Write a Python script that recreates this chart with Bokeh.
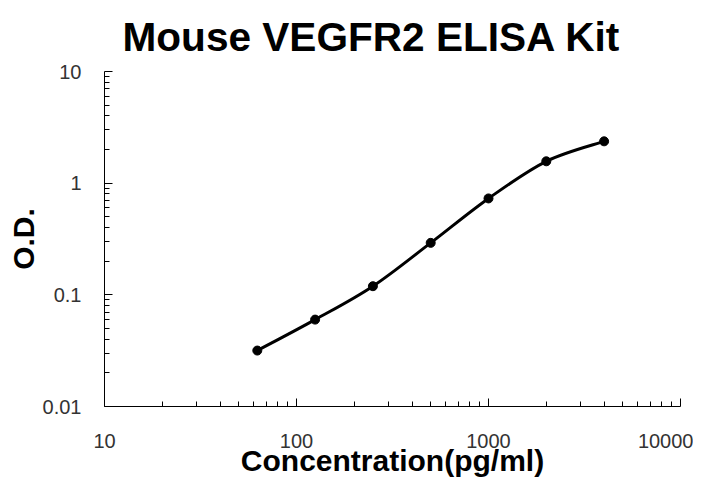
import numpy as np
from bokeh.plotting import figure
from bokeh.models import Range1d, FixedTicker, CustomJSTickFormatter, ColumnDataSource, Title
from bokeh.embed import file_html
from bokeh.resources import INLINE

# Data
concentration = [62.5, 125, 250, 500, 1000, 2000, 4000]
od = [0.0317, 0.060, 0.1195, 0.292, 0.73, 1.57, 2.37]

title_text = "Mouse VEGFR2 ELISA Kit"
x_label = "Concentration(pg/ml)"
y_label = "O.D."
x_major = [10, 100, 1000, 10000]
y_major = [0.01, 0.1, 1, 10]
mantissas = [2, 3, 4, 5, 6, 7, 8, 9]

x_minor = [d * m for d in [10, 100, 1000] for m in mantissas]
y_minor = [d * m for d in [0.01, 0.1, 1] for m in mantissas]

p = figure(width=693, height=483, x_axis_type="log", y_axis_type="log",
           x_range=Range1d(10, 10000), y_range=Range1d(0.01, 10),
           output_backend="svg", toolbar_location=None,
           min_border_left=104, min_border_right=13, min_border_top=71, min_border_bottom=77)
p.title = Title(text=title_text, align="left", offset=18, standoff=23, vertical_align="bottom",
                text_font="Liberation Sans", text_font_size="40.6px", text_font_style="bold",
                text_color="black")
p.outline_line_color = None
p.grid.visible = False
p.background_fill_color = "white"
p.border_fill_color = "white"

fmt = CustomJSTickFormatter(code="return String(tick);")
for ax, major, minor, lab in [(p.xaxis[0], x_major, x_minor, x_label), (p.yaxis[0], y_major, y_minor, y_label)]:
    ax.ticker = FixedTicker(ticks=major, minor_ticks=minor)
    ax.formatter = fmt
    ax.axis_label = lab
    ax.axis_label_text_font = "Liberation Sans"
    ax.axis_label_text_font_size = "30px"
    ax.axis_label_text_font_style = "bold"
    ax.axis_label_text_color = "black"
    ax.major_label_text_font = "Liberation Sans"
    ax.major_label_text_font_size = "20px"
    ax.major_label_text_color = "#333333"
    ax.axis_line_color = "black"
    ax.axis_line_width = 1
    ax.major_tick_line_color = "black"
    ax.minor_tick_line_color = "black"
    ax.major_tick_in = 8
    ax.major_tick_out = 0
    ax.minor_tick_in = 5
    ax.minor_tick_out = 0

p.xaxis.major_label_standoff = 27
p.xaxis.axis_label_standoff = -7
p.yaxis.major_label_standoff = 23
p.yaxis.axis_label_standoff = 0

# Smooth connecting curve (cubic Bezier through points, computed in log space)
lx = np.log10(concentration)
ly = np.log10(od)
n = len(lx)
x0, y0, x1, y1, cx0, cy0, cx1, cy1 = [], [], [], [], [], [], [], []
for i in range(n - 1):
    pm = max(i - 1, 0)
    pp = min(i + 2, n - 1)
    c0x = lx[i] + (lx[i + 1] - lx[pm]) / 6
    c0y = ly[i] + (ly[i + 1] - ly[pm]) / 6
    c1x = lx[i + 1] - (lx[pp] - lx[i]) / 6
    c1y = ly[i + 1] - (ly[pp] - ly[i]) / 6
    x0.append(concentration[i]); y0.append(od[i])
    x1.append(concentration[i + 1]); y1.append(od[i + 1])
    cx0.append(10 ** c0x); cy0.append(10 ** c0y)
    cx1.append(10 ** c1x); cy1.append(10 ** c1y)

bsrc = ColumnDataSource(dict(x0=x0, y0=y0, x1=x1, y1=y1, cx0=cx0, cy0=cy0, cx1=cx1, cy1=cy1))
p.bezier(x0="x0", y0="y0", x1="x1", y1="y1", cx0="cx0", cy0="cy0", cx1="cx1", cy1="cy1",
         source=bsrc, line_color="black", line_width=3)
p.scatter(concentration, od, size=9, color="black")

open("out.html", "w").write(file_html(p, INLINE))
